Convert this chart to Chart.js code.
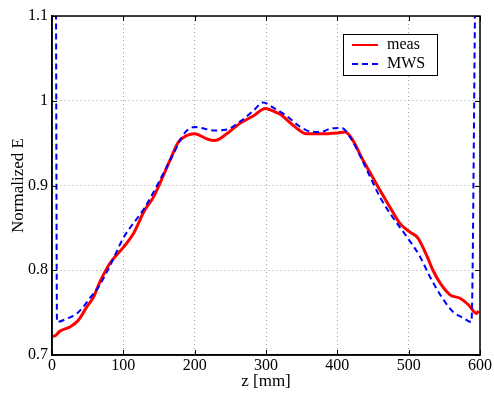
<!DOCTYPE html>
<html lang="en">
<head>
    <meta charset="UTF-8">
    <title>Normalized E along z</title>
    <style>
        body {
            margin: 0;
            padding: 0;
            background-color: #ffffff;
        }
        #chartBox {
            width: 494px;
            height: 393px;
        }
    </style>
    <script src="https://cdn.jsdelivr.net/npm/chart.js"></script>
</head>
<body>
    <div id="chartBox">
        <canvas id="myCanvas" width="494" height="393"></canvas>
    </div>

    <script>
        // measured field (red)
        const zMeas = [0, 5, 11, 25, 37, 49, 58, 67, 81, 100, 114, 130, 142, 151, 165, 177, 189, 200,
            217, 228, 245, 263, 282, 299, 315, 320, 338, 357, 376, 400, 411, 422, 434, 446, 460,
            474, 488, 502, 513, 526, 534, 544, 558, 572, 584, 595, 598];
        const eMeas = [0.722, 0.723, 0.728, 0.733, 0.741, 0.757, 0.768, 0.786, 0.808, 0.827, 0.843,
            0.871, 0.886, 0.902, 0.929, 0.951, 0.959, 0.961, 0.955, 0.953, 0.961, 0.973, 0.982, 0.991,
            0.986, 0.984, 0.971, 0.961, 0.961, 0.962, 0.963, 0.953, 0.933, 0.915, 0.894, 0.874, 0.855,
            0.845, 0.838, 0.816, 0.800, 0.785, 0.771, 0.767, 0.759, 0.749, 0.752];

        // simulated field (blue dashed)
        const zMws = [5.5, 7, 21, 35, 44, 53, 65, 80, 100, 130, 151, 170, 186, 200, 228, 245, 263,
            282, 296, 310, 329, 345, 357, 376, 390, 406, 418, 432, 446, 460, 478, 497, 516, 530,
            549, 562, 576, 588, 593.5];
        const eMws = [1.15, 0.739, 0.743, 0.749, 0.757, 0.767, 0.780, 0.803, 0.838, 0.874, 0.906,
            0.937, 0.962, 0.969, 0.965, 0.966, 0.975, 0.988, 0.998, 0.992, 0.982, 0.971, 0.965, 0.963,
            0.967, 0.968, 0.957, 0.935, 0.910, 0.886, 0.862, 0.840, 0.816, 0.792, 0.765, 0.751, 0.744,
            0.739, 1.15];

        const xTicks = [0, 100, 200, 300, 400, 500, 600];
        const yTicks = [0.7, 0.8, 0.9, 1.0, 1.1];

        const serif = "'Liberation Serif', 'DejaVu Serif', serif";

        const toPoints = (xs, ys) => xs.map((x, i) => ({ x: x, y: ys[i] }));

        // MATLAB-like box, inward ticks and legend
        const matlabAxes = {
            id: 'matlabAxes',
            afterDraw(chart) {
                const ctx = chart.ctx;
                const a = chart.chartArea;
                const xs = chart.scales.x;
                const ys = chart.scales.y;
                ctx.save();
                ctx.strokeStyle = '#000';
                ctx.lineWidth = 1;
                ctx.beginPath();
                xTicks.forEach(v => {
                    const px = Math.round(xs.getPixelForValue(v)) + 0.5;
                    ctx.moveTo(px, a.bottom); ctx.lineTo(px, a.bottom - 5);
                    ctx.moveTo(px, a.top); ctx.lineTo(px, a.top + 5);
                });
                yTicks.forEach(v => {
                    const py = Math.round(ys.getPixelForValue(v)) + 0.5;
                    ctx.moveTo(a.left, py); ctx.lineTo(a.left + 5, py);
                    ctx.moveTo(a.right, py); ctx.lineTo(a.right - 5, py);
                });
                ctx.stroke();
                ctx.lineWidth = 1.5;
                ctx.strokeRect(a.left, a.top, a.right - a.left, a.bottom - a.top);

                // legend
                const bx = 343, by = 34, bw = 94, bh = 41;
                ctx.fillStyle = '#fff';
                ctx.fillRect(bx, by, bw, bh);
                ctx.lineWidth = 1;
                ctx.strokeRect(bx + 0.5, by + 0.5, bw, bh);
                const rows = chart.data.datasets;
                ctx.font = '16px ' + serif;
                ctx.textBaseline = 'middle';
                rows.forEach((ds, i) => {
                    const ly = by + 11 + i * 19;
                    ctx.strokeStyle = ds.borderColor;
                    ctx.lineWidth = 2;
                    ctx.setLineDash(ds.borderDash || []);
                    ctx.beginPath();
                    ctx.moveTo(352, ly);
                    ctx.lineTo(378, ly);
                    ctx.stroke();
                    ctx.setLineDash([]);
                    ctx.fillStyle = '#000';
                    ctx.fillText(ds.label, 387, ly);
                });
                ctx.restore();
            }
        };

        const chart = new Chart(document.getElementById('myCanvas').getContext('2d'), {
            type: 'line',
            data: {
                datasets: [
                    {
                        label: 'meas',
                        data: toPoints(zMeas, eMeas),
                        borderColor: '#ff0000',
                        borderWidth: 3,
                        pointRadius: 0,
                        fill: false,
                        cubicInterpolationMode: 'monotone',
                        order: 1
                    },
                    {
                        label: 'MWS',
                        data: toPoints(zMws, eMws),
                        borderColor: '#0000ff',
                        borderWidth: 2,
                        borderDash: [6, 4],
                        pointRadius: 0,
                        fill: false,
                        cubicInterpolationMode: 'monotone',
                        order: 0
                    }
                ]
            },
            options: {
                responsive: false,
                animation: false,
                layout: {
                    padding: { left: 0, top: 16, right: 14, bottom: 0 }
                },
                plugins: {
                    legend: { display: false },
                    tooltip: { enabled: false }
                },
                scales: {
                    x: {
                        type: 'linear',
                        min: 0,
                        max: 600,
                        afterBuildTicks: s => { s.ticks = xTicks.map(v => ({ value: v })); },
                        afterFit: s => { s.height = 38; },
                        ticks: {
                            color: '#000',
                            padding: 1,
                            maxRotation: 0,
                            font: { family: serif, size: 16 }
                        },
                        grid: {
                            color: '#a0a0a0',
                            lineWidth: 1,
                            drawTicks: false
                        },
                        border: { display: true, color: '#000', width: 1.5, dash: [1, 3] },
                        title: {
                            display: true,
                            text: 'z [mm]',
                            color: '#000',
                            padding: { top: 0, bottom: 1 },
                            font: { family: serif, size: 17 }
                        }
                    },
                    y: {
                        min: 0.7,
                        max: 1.1,
                        afterBuildTicks: s => { s.ticks = yTicks.map(v => ({ value: v })); },
                        afterFit: s => { s.width = 52; },
                        ticks: {
                            color: '#000',
                            padding: 4,
                            font: { family: serif, size: 16 },
                            callback: v => String(Math.round(v * 10) / 10)
                        },
                        grid: {
                            color: '#a0a0a0',
                            lineWidth: 1,
                            drawTicks: false
                        },
                        border: { display: true, color: '#000', width: 1.5, dash: [1, 3] },
                        title: {
                            display: true,
                            text: 'Normalized E',
                            color: '#000',
                            padding: { top: 8, bottom: 0 },
                            font: { family: serif, size: 17 }
                        }
                    }
                }
            },
            plugins: [matlabAxes]
        });
    </script>
</body>
</html>
